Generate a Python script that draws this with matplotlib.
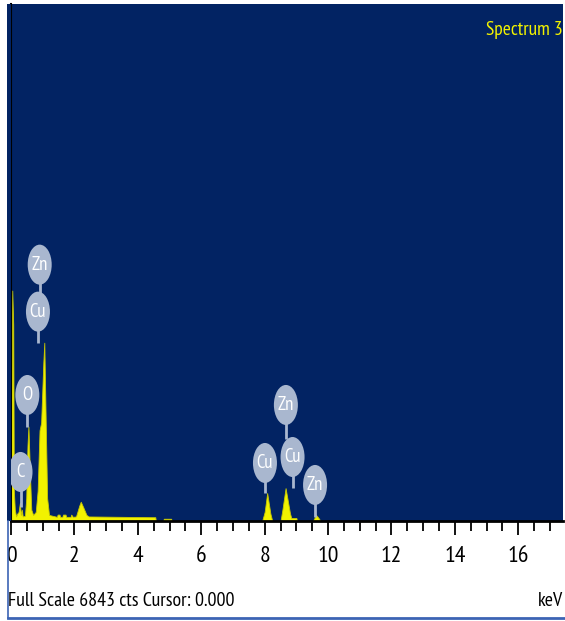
import matplotlib
matplotlib.use("Agg")
import matplotlib.pyplot as plt
from matplotlib.patches import Ellipse, Rectangle
from matplotlib.lines import Line2D

# ---- data ----
spec_kev = [0.00, 0.02, 0.04, 0.07, 0.09, 0.12, 0.16, 0.20, 0.24, 0.28, 0.31, 0.34,
            0.37, 0.44, 0.48, 0.52, 0.55, 0.60, 0.64, 0.70, 0.78, 0.84, 0.90, 0.95,
            1.02, 1.05, 1.10, 1.14, 1.20, 1.45, 1.47, 1.53, 1.55, 1.62, 1.64, 1.72,
            1.74, 1.88, 1.90, 1.95, 2.05, 2.15, 2.20, 2.28, 2.38, 2.45, 4.55, 4.57,
            4.80, 4.82, 5.05, 5.07, 7.92, 8.00, 8.08, 8.18, 8.24, 8.50, 8.56, 8.66,
            8.80, 8.84, 9.00, 9.02, 9.52, 9.56, 9.62, 9.70, 9.76, 17.5]
spec_cts = [0, 2000, 3050, 2600, 400, 150, 60, 100, 120, 240, 80, 150,
            60, 70, 300, 1000, 1250, 600, 150, 80, 120, 400, 1200, 1300,
            2100, 2360, 1200, 300, 80, 55, 85, 85, 55, 55, 85, 85,
            55, 55, 85, 55, 60, 200, 255, 180, 80, 60, 50, 0,
            0, 30, 30, 0, 0, 120, 370, 100, 0, 0, 150, 435,
            100, 40, 40, 0, 0, 30, 80, 40, 0, 0]

label_text = ["Zn", "Cu", "O", "C", "Cu", "Zn", "Cu", "Zn"]
label_kev = [0.905, 0.85, 0.515, 0.30, 8.01, 8.67, 8.88, 9.59]
label_cts = [3393, 2771, 1668, 649, 768, 1536, 847, 477]
stem_tip_cts = [2990, 2357, 1245, 185, 371, 1080, 437, 53]

full_scale = 6843
x_max = 17.41
tick_major = [0, 2, 4, 6, 8, 10, 12, 14, 16]

NAVY = "#022363"
YELLOW = "#f2f200"
BUBBLE = "#a9b7cf"
FONT = ["PT Sans Narrow", "Archivo Narrow", "DejaVu Sans"]

W, H = 565, 621
fig = plt.figure(figsize=(W / 100, H / 100), dpi=100)
fig.patch.set_facecolor("white")

def fx(px):
    return px / W

def fy(py):
    return 1 - py / H

# navy strip to the left of the axis
fig.patches.append(Rectangle((fx(7), fy(521)), fx(11) - fx(7), fy(4) - fy(521),
                             transform=fig.transFigure, facecolor=NAVY,
                             edgecolor="none", zorder=0))
# thin blue frame of the status panel
fig.lines.append(Line2D([fx(8), fx(565)], [fy(618), fy(618)], transform=fig.transFigure,
                        color="#3c64b4", lw=2))
fig.lines.append(Line2D([fx(8), fx(8)], [fy(521), fy(618)], transform=fig.transFigure,
                        color="#3c64b4", lw=1.2))

ax = fig.add_axes([fx(11), fy(521), fx(563) - fx(11), fy(4) - fy(521)])
ax.set_facecolor(NAVY)
ax.set_xlim(0, x_max)
ax.set_ylim(0, full_scale)

ax.fill_between(spec_kev, spec_cts, 0, color=YELLOW, lw=0.6, edgecolor="#c8c800", zorder=2)

# bubble size in data units (about 24 x 40 px)
bw = 24 / 31.7
bh = 40 * full_scale / 517
for t, e, c, tip in zip(label_text, label_kev, label_cts, stem_tip_cts):
    ax.plot([e, e], [c - bh / 2 + 20, tip], color=BUBBLE, lw=2, zorder=3,
            solid_capstyle="butt")
    ax.add_patch(Ellipse((e, c), bw, bh, facecolor=BUBBLE, edgecolor="none", zorder=4))
    ax.text(e, c, t, color="white", ha="center", va="center", fontsize=13.5,
            family=FONT, zorder=5)

for s in ["top", "right"]:
    ax.spines[s].set_visible(False)
ax.spines["left"].set_color("black")
ax.spines["left"].set_linewidth(1.5)
ax.spines["bottom"].set_color("black")
ax.spines["bottom"].set_linewidth(2)

ax.set_yticks([])
ax.set_xticks(tick_major)
ax.set_xticks([v / 2 for v in range(0, 35)], minor=True)
ax.tick_params(axis="x", which="major", length=10, width=1.3, color="black", pad=8,
               labelsize=17)
ax.tick_params(axis="x", which="minor", length=7, width=1.3, color="black")
for lab in ax.get_xticklabels():
    lab.set_family(FONT)

ax.text(1.0, 0.95, "Spectrum 3", transform=ax.transAxes, color=YELLOW,
        ha="right", va="center", fontsize=14, family=FONT)

fig.text(fx(8), fy(601), "Full Scale 6843 cts Cursor: 0.000", ha="left", va="center",
         fontsize=14.3, family=FONT, color="black")
fig.text(fx(563), fy(601), "keV", ha="right", va="center",
         fontsize=14.3, family=FONT, color="black")

fig.savefig("out.png", dpi=100, facecolor="white")
